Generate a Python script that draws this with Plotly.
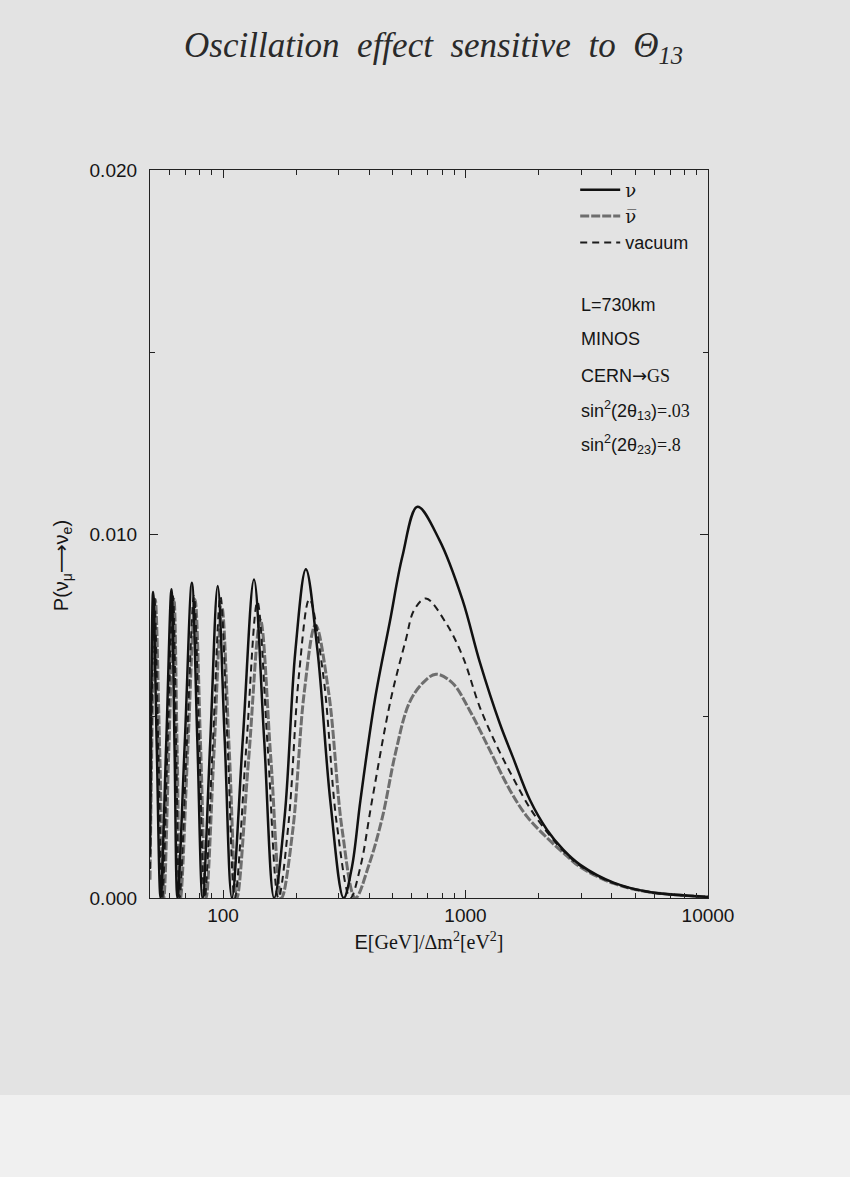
import plotly.graph_objects as go

# values: E/dm2 (GeV/eV^2) and P(numu -> nue)
nu_E = [50, 51.5, 53.3, 55.3, 58.3, 61.3, 63.1, 64.9, 69.6, 74.4, 78.4, 82.4,
        88.6, 95.1, 101.7, 108.8, 120.8, 134.2, 147.7, 162.5, 179.7, 198.7,
        219.7, 245.2, 277.7, 314.5, 340.4, 368.8, 422.9, 488, 549, 634,
        780, 972, 1143, 1384, 1568, 1844, 2170, 2535, 2974, 4078, 5646, 10000]
nu_P = [0.0012, 0.00841, 0.0042, 0.0, 0.0042, 0.00848, 0.0042, 0.0, 0.0043, 0.00866,
        0.0043, 0.0, 0.0043, 0.00857, 0.0043, 0.0, 0.0044, 0.00875, 0.0044, 0.0,
        0.00226, 0.00677, 0.00903, 0.0068, 0.0026, 0.0, 0.00086, 0.00269, 0.00544,
        0.0076, 0.00938, 0.01075, 0.00984, 0.00819, 0.0065, 0.0048, 0.00387,
        0.00269, 0.00187, 0.00132, 0.00091, 0.00042, 0.00017, 0.00003]

vac_E = [50, 52.1, 54.1, 56.2, 59.1, 62.2, 64.1, 66.2, 70.9, 75.9, 79.9, 84.0,
         90.6, 97.6, 104.6, 111.9, 124.6, 138.6, 153.0, 169.2, 186.3, 205.9,
         227.1, 258.7, 294.4, 335.2, 368.8, 412, 491.4, 567.3, 614, 686.8,
         831.6, 974.5, 1143, 1341, 1565, 1844, 2170, 2535, 2974, 4078, 5646, 10000]
vac_P = [0.0008, 0.0083, 0.0042, 0.0, 0.0042, 0.0083, 0.0042, 0.0, 0.0042, 0.0083,
         0.0042, 0.0, 0.0041, 0.00828, 0.0041, 0.0, 0.0041, 0.00814, 0.0041, 0.0,
         0.00205, 0.00616, 0.00821, 0.00616, 0.00205, 0.0, 0.00086, 0.00269,
         0.00544, 0.00709, 0.00791, 0.00823, 0.00755, 0.00663, 0.00526, 0.0042,
         0.00332, 0.00247, 0.00181, 0.00129, 0.00088, 0.00041, 0.00017, 0.00003]

bar_E = [50, 52.6, 54.8, 57.0, 59.8, 62.8, 64.7, 66.8, 71.6, 76.7, 80.9, 85.2,
         91.8, 98.9, 106.2, 114.1, 127.5, 142.6, 157.6, 174.4, 194.1, 216.1,
         240.6, 272.9, 309.9, 351.6, 399.3, 453.6, 515, 585.5, 664.8, 755.6,
         885.8, 1039, 1258, 1523, 1787, 2170, 2535, 2974, 4078, 5646, 10000]
bar_P = [0.0005, 0.0082, 0.0041, 0.0, 0.0041, 0.0082, 0.0041, 0.0, 0.0041, 0.0082,
         0.0041, 0.0, 0.004, 0.0080, 0.004, 0.0, 0.0038, 0.00764, 0.0038, 0.0,
         0.00188, 0.00563, 0.0075, 0.00563, 0.00188, 0.0, 0.0009, 0.0022,
         0.0040, 0.00535, 0.0059, 0.00615, 0.0059, 0.00516, 0.00407, 0.00297,
         0.00225, 0.00165, 0.00124, 0.00085, 0.0004, 0.00017, 0.00003]

x_ticks = [100, 1000, 10000]
x_ticktext = ["100", "1000", "10000"]
x_minor = [60, 70, 80, 90, 200, 300, 400, 500, 600, 700, 800, 900,
           2000, 3000, 4000, 5000, 6000, 7000, 8000, 9000]
y_ticks = [0.0, 0.010, 0.020]
y_ticktext = ["0.000", "0.010", "0.020"]

BG = "#e3e3e3"
INK = "#151515"
SANS = "Liberation Sans, Arial, sans-serif"
SERIF = "Liberation Serif, Times New Roman, serif"
ARROW = "<span style='font-family:DejaVu Sans'>\u2192</span>"
LONG_ARROW = "<span style='font-family:DejaVu Sans'>\u27f6</span>"

fig = go.Figure()
fig.add_trace(go.Scatter(x=bar_E, y=bar_P, mode="lines",
                         name="<span style='font-family:DejaVu Serif'>\u03bd\u0305</span>",
                         line=dict(color="#6e6e6e", width=3, dash="9px,2px",
                                   shape="spline", smoothing=1.0),
                         legendrank=2))
fig.add_trace(go.Scatter(x=vac_E, y=vac_P, mode="lines", name="vacuum",
                         line=dict(color="#1c1c1c", width=2, dash="7px,5px",
                                   shape="spline", smoothing=1.0),
                         legendrank=3))
fig.add_trace(go.Scatter(x=nu_E, y=nu_P, mode="lines",
                         name="<span style='font-family:DejaVu Serif'>\u03bd</span>",
                         line=dict(color="#111111", width=2.5,
                                   shape="spline", smoothing=1.0),
                         legendrank=1))

notes = [
    ("L=730km", 0.8146),
    ("MINOS", 0.7679),
    ("CERN" + ARROW + "<span style='font-family:Liberation Serif'>GS</span>", 0.7184),
    ("sin<sup>2</sup>(2\u03b8<sub>13</sub>)<span style='font-family:Liberation Serif'>=.03</span>", 0.6703),
    ("sin<sup>2</sup>(2\u03b8<sub>23</sub>)<span style='font-family:Liberation Serif'>=.8</span>", 0.6236),
]
for txt, yy in notes:
    fig.add_annotation(text=txt, xref="paper", yref="paper", x=0.769, y=yy,
                       xanchor="left", yanchor="middle", showarrow=False,
                       font=dict(family=SANS, size=18, color=INK))

fig.add_annotation(text="P(\u03bd<sub>\u03bc</sub>" + LONG_ARROW + "\u03bd<sub>e</sub>)",
                   xref="paper", yref="paper", x=-0.158, y=0.457, textangle=-90,
                   xanchor="center", yanchor="middle",
                   showarrow=False, font=dict(family=SANS, size=20, color=INK))

# lighter strip at the bottom of the scanned page
fig.add_shape(type="rect", xref="paper", yref="paper", x0=-0.3, x1=1.3,
              y0=-0.40, y1=-0.2706, fillcolor="#f0f0f0", line_width=0, layer="below")

fig.update_layout(
    width=850, height=1177,
    margin=dict(l=150, r=142, t=170, b=279),
    paper_bgcolor=BG, plot_bgcolor=BG,
    font=dict(family=SANS, size=18, color=INK),
    title=dict(text="<i>Oscillation  effect  sensitive  to  \u0398<sub>13</sub></i>",
               x=0.51, xanchor="center", y=0.962, yanchor="middle",
               font=dict(family=SERIF, size=35, color="#2a2a2a")),
    legend=dict(x=0.762, y=0.998, xanchor="left", yanchor="top",
                bgcolor="rgba(0,0,0,0)", font=dict(family=SANS, size=18, color=INK),
                tracegroupgap=0, itemwidth=40),
    showlegend=True,
)
fig.update_xaxes(type="log", range=[1.69897, 4.0], tickvals=x_ticks,
                 ticktext=x_ticktext, ticks="inside", ticklen=8,
                 tickcolor="#222", showline=True, linecolor="#222", linewidth=1.2,
                 mirror="ticks", showgrid=False, zeroline=False,
                 tickfont=dict(size=19),
                 minor=dict(tickvals=x_minor, ticks="inside", ticklen=5,
                            tickcolor="#222", showgrid=False),
                 title=dict(text="E<span style='font-family:Liberation Serif'>[GeV]/\u0394m<sup>2</sup>[eV<sup>2</sup>]</span>",
                            standoff=10, font=dict(size=20)))
fig.update_yaxes(range=[0, 0.020], tickvals=y_ticks, ticktext=y_ticktext,
                 ticks="inside", ticklen=8, tickcolor="#222", showline=True,
                 linecolor="#222", linewidth=1.2, mirror="ticks", showgrid=False,
                 zeroline=False, tickfont=dict(size=19), ticklabelstandoff=8,
                 minor=dict(dtick=0.005, ticks="inside", ticklen=5,
                            tickcolor="#222", showgrid=False))

fig.write_html("out.html", config={"displayModeBar": False},
               post_script="document.body.style.margin='0px';")
